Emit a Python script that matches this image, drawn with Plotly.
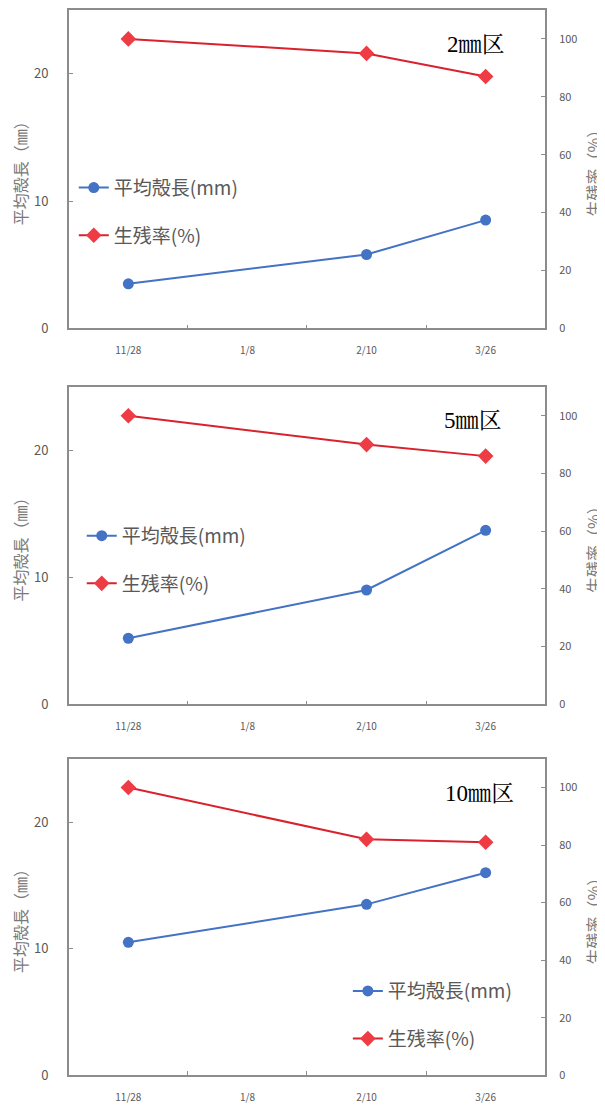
import plotly.graph_objects as go

dates = ["11/28", "1/8", "2/10", "3/26"]
panel_titles = ["2㎜区", "5㎜区", "10㎜区"]
length_2mm = [3.5, None, 5.8, 8.5]
survival_2mm = [100, None, 95, 87]
length_5mm = [5.2, None, 9.0, 13.7]
survival_5mm = [100, None, 90, 86]
length_10mm = [10.5, None, 13.5, 16.0]
survival_10mm = [100, None, 82, 81]
left_ticks = [0, 10, 20]
right_ticks = [0, 20, 40, 60, 80, 100]

OFF = 8  # default page body margin
W, H = 605 - OFF, 1108 - OFF
BLUE = "#4472C4"
RED_LINE = "#D9222E"
RED_MK = "#EE3B44"
GRAY = "#595959"
TGRAY = "#7A7A7A"
AXC = "#8C8C8C"
FONT = "Noto Sans CJK JP"


def px(x):
    return (x - OFF) / W


def py(y):
    return (H - (y - OFF)) / H


# pixel boxes in page coords (x0, x1, ytop, ybottom)
boxes = [(69, 547, 10, 331), (69, 547, 390, 710), (69, 547, 765, 1084)]
lengths = [length_2mm, length_5mm, length_10mm]
survs = [survival_2mm, survival_5mm, survival_10mm]
legend_pos = [(74, 170), (82, 521), (349, 980)]
title_pos = [(509, 45), (506, 424), (518, 800)]

fig = go.Figure()
layout = dict(width=W, height=H, margin=dict(l=0, r=0, t=0, b=0),
              paper_bgcolor="white", plot_bgcolor="white",
              font=dict(family=FONT, color=GRAY), annotations=[])

for i in range(3):
    x0, x1, yt, yb = boxes[i]
    xn = "x" if i == 0 else f"x{i+1}"
    yl = "y" if i == 0 else f"y{2*i+1}"
    yr = f"y{2*i+2}"
    xkey = "xaxis" if i == 0 else f"xaxis{i+1}"
    ylkey = "yaxis" if i == 0 else f"yaxis{2*i+1}"
    yrkey = f"yaxis{2*i+2}"
    leg = "legend" if i == 0 else f"legend{i+1}"
    dom_y = [py(yb), py(yt)]
    layout[xkey] = dict(domain=[px(x0), px(x1)], anchor=yl, type="category",
                        categoryorder="array", categoryarray=dates,
                        range=[-0.5, 3.5], showline=True, linecolor=AXC, linewidth=1.5,
                        mirror=True, ticks="inside", tickson="boundaries", ticklen=4,
                        tickcolor=AXC, tickfont=dict(size=10, color=GRAY, family=FONT),
                        showgrid=False, zeroline=False, ticklabelstandoff=12)
    layout[ylkey] = dict(domain=dom_y, anchor=xn, range=[0, 25], tickvals=left_ticks,
                         showline=True, linecolor=AXC, linewidth=1.5, ticks="inside",
                         ticklen=4, tickcolor=AXC, showgrid=False, zeroline=False,
                         tickfont=dict(size=13, color=GRAY, family=FONT),
                         ticklabelstandoff=16,
                         title=dict(text="平均殻長（㎜）", font=dict(size=16, color=TGRAY, family=FONT),
                                    standoff=11))
    layout[yrkey] = dict(domain=dom_y, anchor=xn, overlaying=yl, side="right",
                         range=[0, 110], tickvals=right_ticks,
                         showline=True, linecolor=AXC, linewidth=1.5, ticks="inside",
                         ticklen=4, tickcolor=AXC, showgrid=False, zeroline=False,
                         tickfont=dict(size=11, color=GRAY, family=FONT),
                         ticklabelstandoff=10,
                         title=dict(text="生残率（%）", font=dict(size=16, color=TGRAY, family=FONT),
                                    standoff=16))
    lx, ly = legend_pos[i]
    layout[leg] = dict(x=px(lx), y=py(ly), xanchor="left", yanchor="top",
                       bgcolor="rgba(255,255,255,0)", font=dict(size=19, color=GRAY, family=FONT),
                       tracegroupgap=20, itemwidth=30)
    tx, ty = title_pos[i]
    layout["annotations"].append(dict(text=panel_titles[i], x=px(tx), y=py(ty),
                                      xref="paper", yref="paper", xanchor="right",
                                      yanchor="middle", showarrow=False,
                                      font=dict(size=23, color="black",
                                                family="Liberation Serif, Noto Serif CJK JP, serif")))
    fig.add_trace(go.Scatter(x=dates, y=lengths[i], name="平均殻長(mm)", mode="lines+markers",
                             connectgaps=True, xaxis=xn, yaxis=yl, legend=leg, legendgroup=f"a{i}",
                             line=dict(color=BLUE, width=2),
                             marker=dict(symbol="circle", size=11, color=BLUE)))
    fig.add_trace(go.Scatter(x=dates, y=survs[i], name="生残率(%)", mode="lines+markers",
                             connectgaps=True, xaxis=xn, yaxis=yr, legend=leg, legendgroup=f"b{i}",
                             line=dict(color=RED_LINE, width=2),
                             marker=dict(symbol="diamond", size=12, color=RED_MK)))

fig.update_layout(**layout)
fig.write_html("out.html")
